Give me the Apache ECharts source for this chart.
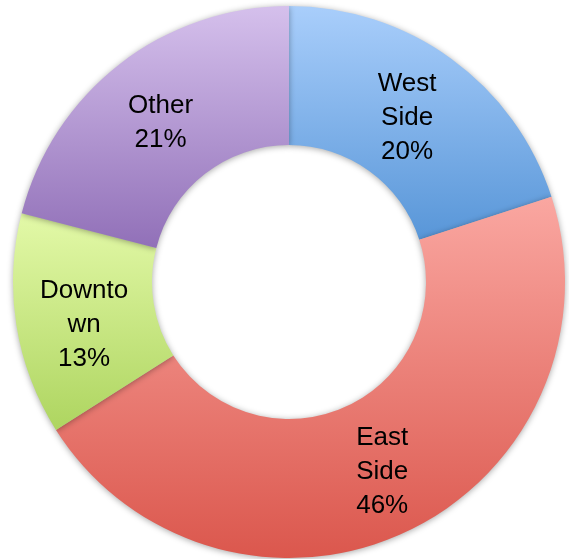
<!DOCTYPE html>
<html>
<head>
<meta charset="utf-8">
<script src="https://cdn.jsdelivr.net/npm/echarts@6/dist/echarts.min.js"></script>
<style>
html,body{margin:0;padding:0;background:#fff;}
#chart{width:569px;height:559px;}
</style>
</head>
<body>
<div id="chart"></div>
<script>
var categories = ['West Side', 'East Side', 'Downtown', 'Other'];
var values = [20, 46, 13, 21];
var labelTexts = ['West\nSide', 'East\nSide', 'Downto\nwn', 'Other'];
var topColors = ['#a9cefb', '#faa7a1', '#e3f9a8', '#d5c0ec'];
var bottomColors = ['#5896d8', '#db574d', '#aed560', '#9170b8'];
var labelShifts = [[-5, 5], [4, 0], [2, 10], [0, 6]];

var chart = echarts.init(document.getElementById('chart'));
var data = categories.map(function (c, i) {
  return {
    name: c,
    value: values[i],
    label: { offset: labelShifts[i] },
    itemStyle: {
      color: new echarts.graphic.LinearGradient(0, 0, 0, 1, [
        { offset: 0, color: topColors[i] },
        { offset: 1, color: bottomColors[i] }
      ])
    }
  };
});
chart.setOption({
  animation: false,
  series: [{
    type: 'pie',
    center: [289, 282],
    radius: [137, 276],
    startAngle: 90,
    clockwise: true,
    data: data,
    itemStyle: {
      shadowBlur: 6,
      shadowColor: 'rgba(0,0,0,0.35)',
      shadowOffsetY: 1
    },
    label: {
      show: true,
      position: 'inside',
      fontFamily: 'Liberation Sans',
      fontSize: 26,
      lineHeight: 34,
      color: '#000',
      formatter: function (p) {
        return labelTexts[p.dataIndex] + '\n' + p.value + '%';
      }
    },
    labelLine: { show: false },
    emphasis: { disabled: true }
  }]
});
</script>
</body>
</html>
